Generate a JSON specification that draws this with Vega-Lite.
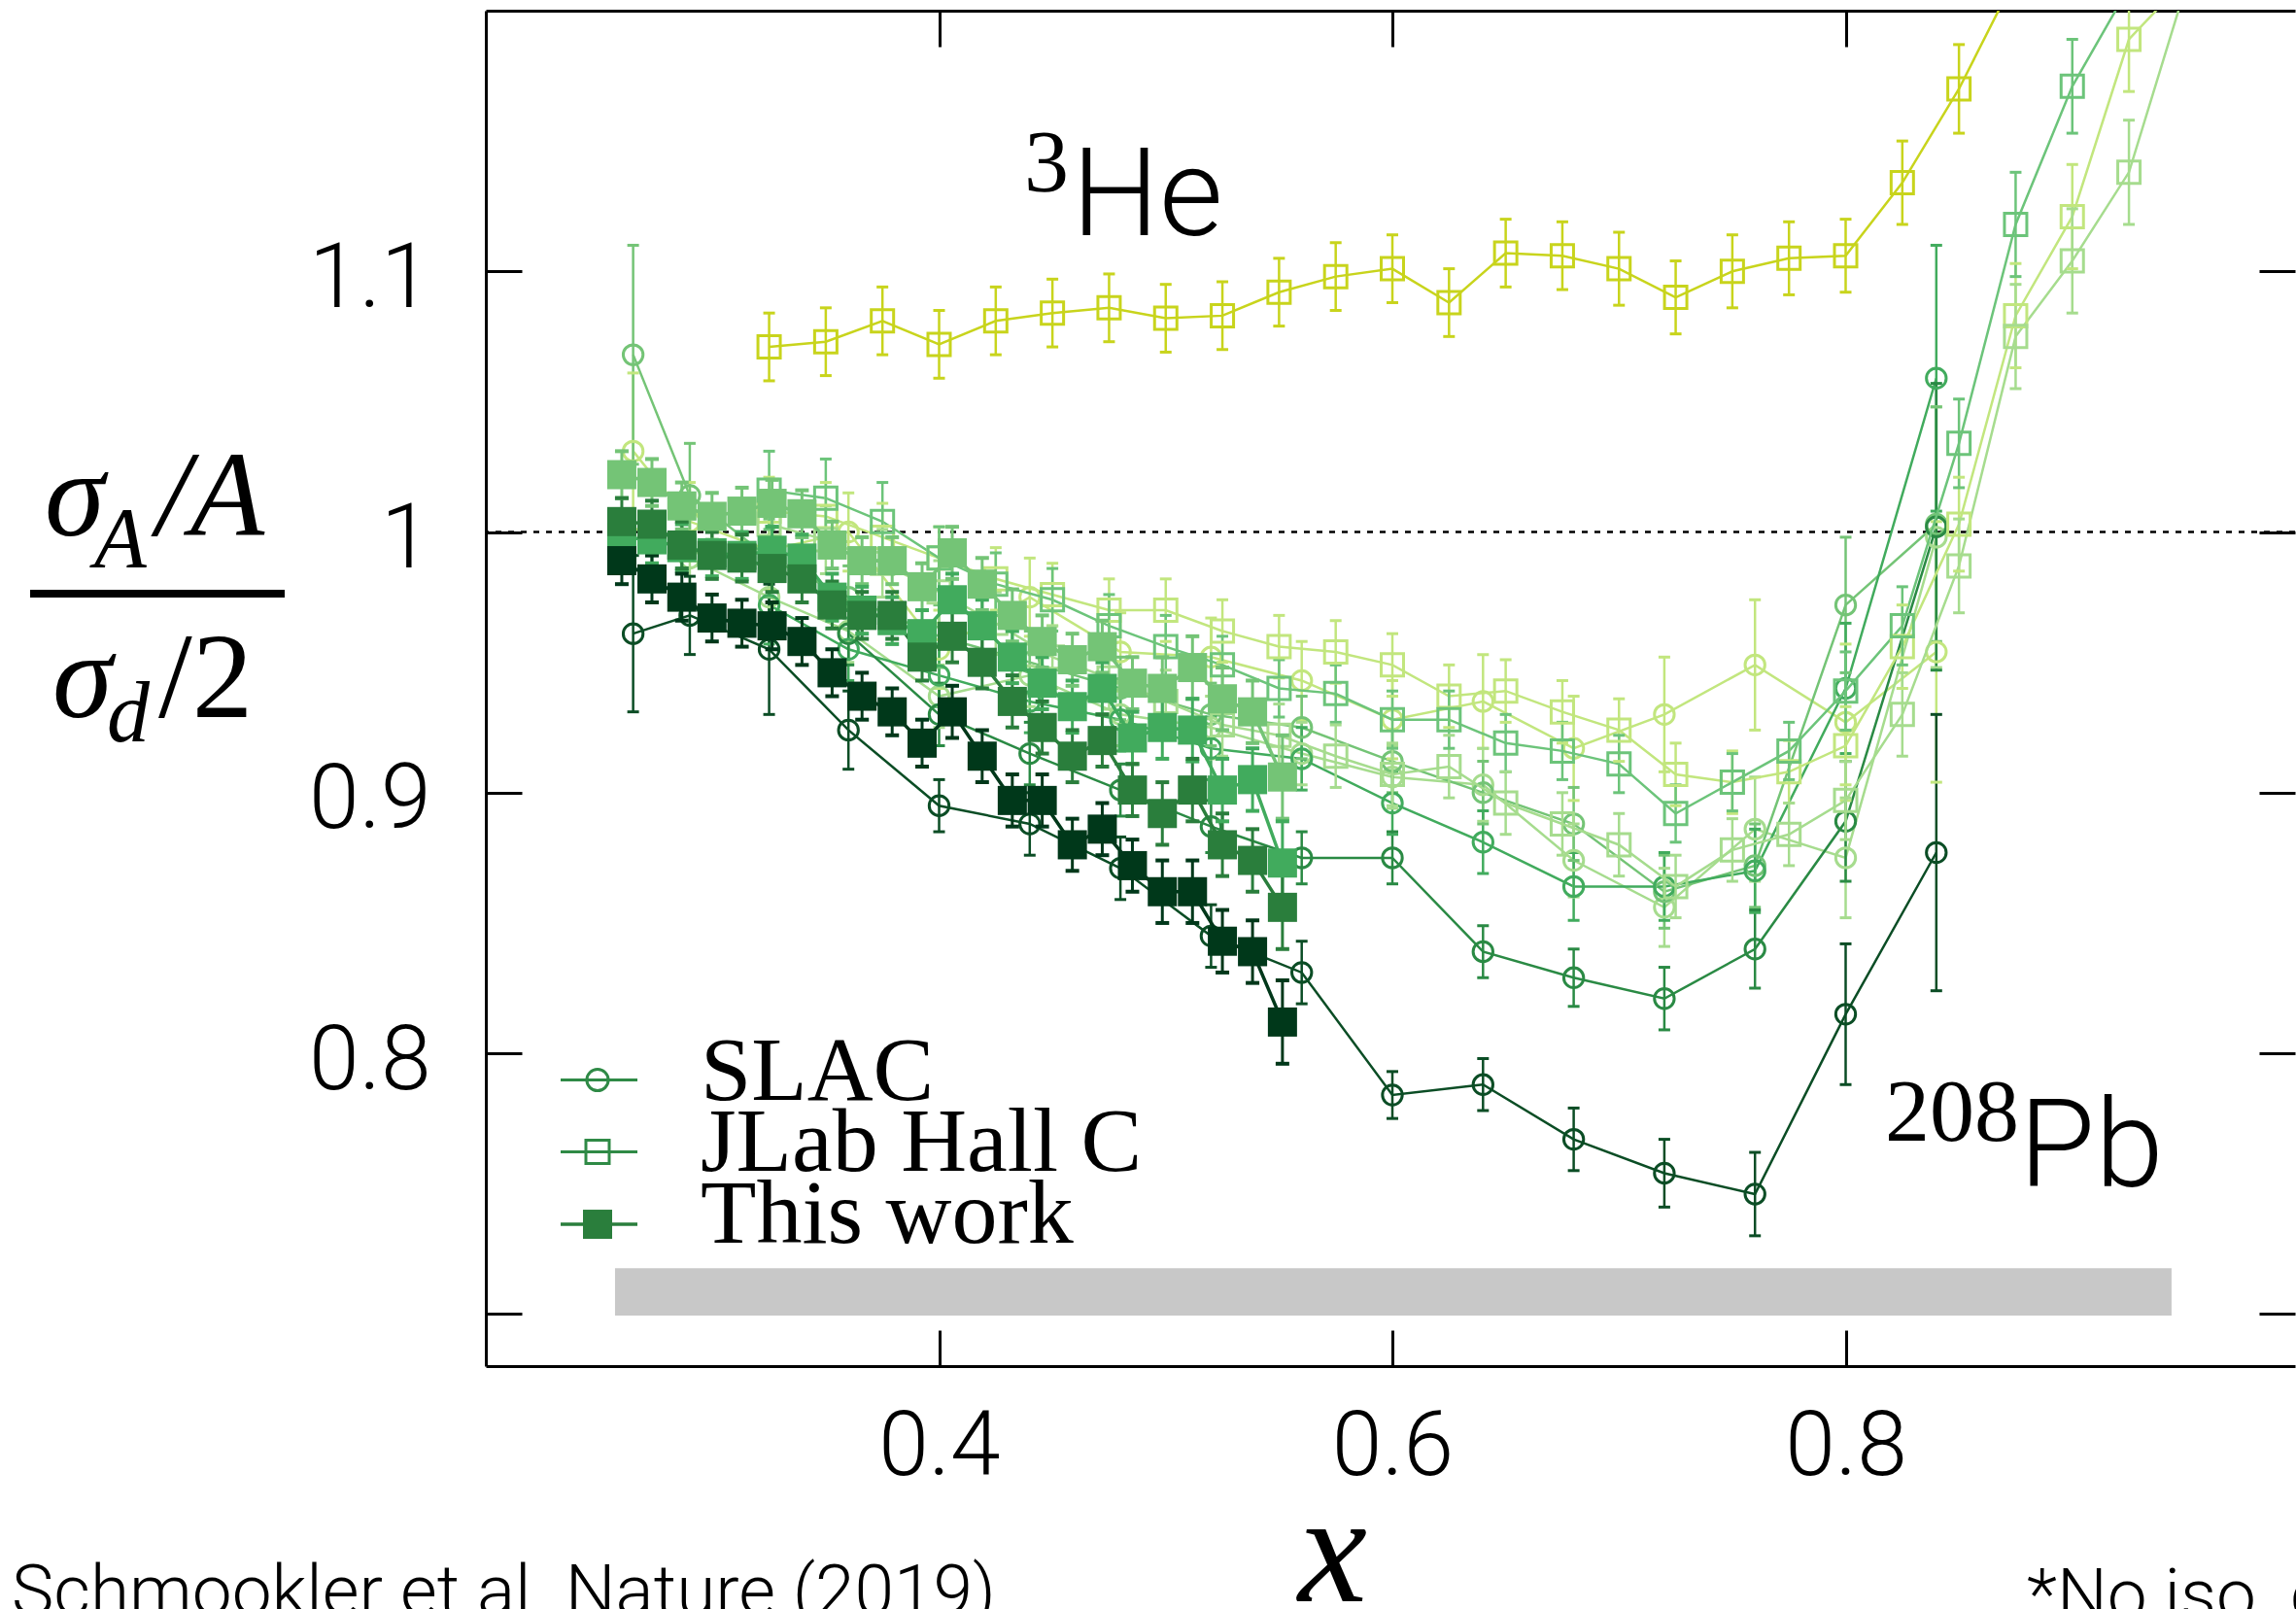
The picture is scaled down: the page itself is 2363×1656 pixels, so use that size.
{
"$schema": "https://vega.github.io/schema/vega-lite/v6.json",
"width": 1862, "height": 1395,
"autosize": {"type": "none"},
"padding": {"left": 500, "top": 11, "right": 1, "bottom": 250},
"background": "white",
"config": {"view": {"stroke": null}, "axis": {"grid": false}},
"datasets": {
"pts": [
{"g":"S","s":"SLAC He","x":0.265,"y":1.031,"lo":1.001,"hi":1.061},
{"g":"S","s":"SLAC He","x":0.29,"y":1.004,"lo":0.989,"hi":1.019},
{"g":"S","s":"SLAC He","x":0.325,"y":0.993,"lo":0.978,"hi":1.008},
{"g":"S","s":"SLAC He","x":0.36,"y":1.0,"lo":0.985,"hi":1.015},
{"g":"S","s":"SLAC He","x":0.4,"y":0.955,"lo":0.94,"hi":0.97},
{"g":"S","s":"SLAC He","x":0.44,"y":0.975,"lo":0.96,"hi":0.99},
{"g":"S","s":"SLAC He","x":0.48,"y":0.954,"lo":0.939,"hi":0.969},
{"g":"S","s":"SLAC He","x":0.52,"y":0.952,"lo":0.937,"hi":0.967},
{"g":"S","s":"SLAC He","x":0.56,"y":0.943,"lo":0.928,"hi":0.958},
{"g":"S","s":"SLAC He","x":0.6,"y":0.928,"lo":0.913,"hi":0.943},
{"g":"S","s":"SLAC He","x":0.64,"y":0.935,"lo":0.917,"hi":0.953},
{"g":"S","s":"SLAC He","x":0.68,"y":0.917,"lo":0.897,"hi":0.937},
{"g":"S","s":"SLAC He","x":0.72,"y":0.93,"lo":0.908,"hi":0.952},
{"g":"S","s":"SLAC He","x":0.76,"y":0.949,"lo":0.924,"hi":0.974},
{"g":"S","s":"SLAC He","x":0.8,"y":0.927,"lo":0.897,"hi":0.957},
{"g":"S","s":"SLAC He","x":0.84,"y":0.954,"lo":0.904,"hi":1.004},
{"g":"S","s":"SLAC Be","x":0.29,"y":0.99,"lo":0.975,"hi":1.005},
{"g":"S","s":"SLAC Be","x":0.325,"y":0.975,"lo":0.96,"hi":0.99},
{"g":"S","s":"SLAC Be","x":0.36,"y":0.962,"lo":0.95,"hi":0.974},
{"g":"S","s":"SLAC Be","x":0.4,"y":0.937,"lo":0.925,"hi":0.949},
{"g":"S","s":"SLAC Be","x":0.44,"y":0.945,"lo":0.933,"hi":0.957},
{"g":"S","s":"SLAC Be","x":0.48,"y":0.93,"lo":0.918,"hi":0.942},
{"g":"S","s":"SLAC Be","x":0.52,"y":0.925,"lo":0.913,"hi":0.937},
{"g":"S","s":"SLAC Be","x":0.56,"y":0.915,"lo":0.903,"hi":0.927},
{"g":"S","s":"SLAC Be","x":0.6,"y":0.906,"lo":0.894,"hi":0.918},
{"g":"S","s":"SLAC Be","x":0.64,"y":0.903,"lo":0.889,"hi":0.917},
{"g":"S","s":"SLAC Be","x":0.68,"y":0.874,"lo":0.86,"hi":0.888},
{"g":"S","s":"SLAC Be","x":0.72,"y":0.856,"lo":0.841,"hi":0.871},
{"g":"S","s":"SLAC Be","x":0.76,"y":0.886,"lo":0.866,"hi":0.906},
{"g":"S","s":"SLAC Be","x":0.8,"y":0.875,"lo":0.852,"hi":0.898},
{"g":"S","s":"SLAC Be","x":0.84,"y":0.998,"lo":0.948,"hi":1.048},
{"g":"S","s":"SLAC C","x":0.265,"y":1.068,"lo":1.026,"hi":1.11},
{"g":"S","s":"SLAC C","x":0.29,"y":1.014,"lo":0.994,"hi":1.034},
{"g":"S","s":"SLAC C","x":0.325,"y":0.99,"lo":0.975,"hi":1.005},
{"g":"S","s":"SLAC C","x":0.36,"y":0.975,"lo":0.963,"hi":0.987},
{"g":"S","s":"SLAC C","x":0.4,"y":0.96,"lo":0.948,"hi":0.972},
{"g":"S","s":"SLAC C","x":0.44,"y":0.95,"lo":0.938,"hi":0.962},
{"g":"S","s":"SLAC C","x":0.48,"y":0.94,"lo":0.928,"hi":0.952},
{"g":"S","s":"SLAC C","x":0.52,"y":0.93,"lo":0.918,"hi":0.942},
{"g":"S","s":"SLAC C","x":0.56,"y":0.925,"lo":0.913,"hi":0.937},
{"g":"S","s":"SLAC C","x":0.6,"y":0.912,"lo":0.9,"hi":0.924},
{"g":"S","s":"SLAC C","x":0.64,"y":0.9,"lo":0.888,"hi":0.912},
{"g":"S","s":"SLAC C","x":0.68,"y":0.888,"lo":0.874,"hi":0.902},
{"g":"S","s":"SLAC C","x":0.72,"y":0.862,"lo":0.848,"hi":0.876},
{"g":"S","s":"SLAC C","x":0.76,"y":0.872,"lo":0.856,"hi":0.888},
{"g":"S","s":"SLAC C","x":0.8,"y":0.972,"lo":0.946,"hi":0.998},
{"g":"S","s":"SLAC C","x":0.84,"y":1.003,"lo":0.958,"hi":1.048},
{"g":"S","s":"SLAC Al","x":0.325,"y":0.972,"lo":0.957,"hi":0.987},
{"g":"S","s":"SLAC Al","x":0.36,"y":0.955,"lo":0.943,"hi":0.967},
{"g":"S","s":"SLAC Al","x":0.4,"y":0.945,"lo":0.933,"hi":0.957},
{"g":"S","s":"SLAC Al","x":0.44,"y":0.935,"lo":0.923,"hi":0.947},
{"g":"S","s":"SLAC Al","x":0.48,"y":0.928,"lo":0.916,"hi":0.94},
{"g":"S","s":"SLAC Al","x":0.52,"y":0.917,"lo":0.905,"hi":0.929},
{"g":"S","s":"SLAC Al","x":0.56,"y":0.913,"lo":0.901,"hi":0.925},
{"g":"S","s":"SLAC Al","x":0.6,"y":0.896,"lo":0.884,"hi":0.908},
{"g":"S","s":"SLAC Al","x":0.64,"y":0.881,"lo":0.869,"hi":0.893},
{"g":"S","s":"SLAC Al","x":0.68,"y":0.864,"lo":0.851,"hi":0.877},
{"g":"S","s":"SLAC Al","x":0.72,"y":0.864,"lo":0.851,"hi":0.877},
{"g":"S","s":"SLAC Al","x":0.76,"y":0.87,"lo":0.854,"hi":0.886},
{"g":"S","s":"SLAC Al","x":0.8,"y":0.94,"lo":0.915,"hi":0.965},
{"g":"S","s":"SLAC Al","x":0.84,"y":1.059,"lo":1.008,"hi":1.11},
{"g":"S","s":"SLAC Fe","x":0.36,"y":0.961,"lo":0.949,"hi":0.973},
{"g":"S","s":"SLAC Fe","x":0.4,"y":0.93,"lo":0.918,"hi":0.942},
{"g":"S","s":"SLAC Fe","x":0.44,"y":0.915,"lo":0.903,"hi":0.927},
{"g":"S","s":"SLAC Fe","x":0.48,"y":0.901,"lo":0.891,"hi":0.911},
{"g":"S","s":"SLAC Fe","x":0.52,"y":0.887,"lo":0.877,"hi":0.897},
{"g":"S","s":"SLAC Fe","x":0.56,"y":0.875,"lo":0.865,"hi":0.885},
{"g":"S","s":"SLAC Fe","x":0.6,"y":0.875,"lo":0.865,"hi":0.885},
{"g":"S","s":"SLAC Fe","x":0.64,"y":0.839,"lo":0.829,"hi":0.849},
{"g":"S","s":"SLAC Fe","x":0.68,"y":0.829,"lo":0.818,"hi":0.84},
{"g":"S","s":"SLAC Fe","x":0.72,"y":0.821,"lo":0.809,"hi":0.833},
{"g":"S","s":"SLAC Fe","x":0.76,"y":0.84,"lo":0.825,"hi":0.855},
{"g":"S","s":"SLAC Fe","x":0.8,"y":0.889,"lo":0.866,"hi":0.912},
{"g":"S","s":"SLAC Fe","x":0.84,"y":1.002,"lo":0.947,"hi":1.057},
{"g":"S","s":"SLAC Au","x":0.265,"y":0.961,"lo":0.931,"hi":0.991},
{"g":"S","s":"SLAC Au","x":0.29,"y":0.968,"lo":0.953,"hi":0.983},
{"g":"S","s":"SLAC Au","x":0.325,"y":0.955,"lo":0.93,"hi":0.98},
{"g":"S","s":"SLAC Au","x":0.36,"y":0.924,"lo":0.909,"hi":0.939},
{"g":"S","s":"SLAC Au","x":0.4,"y":0.895,"lo":0.885,"hi":0.905},
{"g":"S","s":"SLAC Au","x":0.44,"y":0.888,"lo":0.876,"hi":0.9},
{"g":"S","s":"SLAC Au","x":0.48,"y":0.871,"lo":0.859,"hi":0.883},
{"g":"S","s":"SLAC Au","x":0.52,"y":0.845,"lo":0.833,"hi":0.857},
{"g":"S","s":"SLAC Au","x":0.56,"y":0.831,"lo":0.819,"hi":0.843},
{"g":"S","s":"SLAC Au","x":0.6,"y":0.784,"lo":0.775,"hi":0.793},
{"g":"S","s":"SLAC Au","x":0.64,"y":0.788,"lo":0.778,"hi":0.798},
{"g":"S","s":"SLAC Au","x":0.68,"y":0.767,"lo":0.755,"hi":0.779},
{"g":"S","s":"SLAC Au","x":0.72,"y":0.754,"lo":0.741,"hi":0.767},
{"g":"S","s":"SLAC Au","x":0.76,"y":0.746,"lo":0.73,"hi":0.762},
{"g":"S","s":"SLAC Au","x":0.8,"y":0.815,"lo":0.788,"hi":0.842},
{"g":"S","s":"SLAC Au","x":0.84,"y":0.877,"lo":0.824,"hi":0.93},
{"g":"J","s":"JLab 3He","x":0.325,"y":1.071,"lo":1.058,"hi":1.084},
{"g":"J","s":"JLab 3He","x":0.35,"y":1.073,"lo":1.06,"hi":1.086},
{"g":"J","s":"JLab 3He","x":0.375,"y":1.081,"lo":1.068,"hi":1.094},
{"g":"J","s":"JLab 3He","x":0.4,"y":1.072,"lo":1.059,"hi":1.085},
{"g":"J","s":"JLab 3He","x":0.425,"y":1.081,"lo":1.068,"hi":1.094},
{"g":"J","s":"JLab 3He","x":0.45,"y":1.084,"lo":1.071,"hi":1.097},
{"g":"J","s":"JLab 3He","x":0.475,"y":1.086,"lo":1.073,"hi":1.099},
{"g":"J","s":"JLab 3He","x":0.5,"y":1.082,"lo":1.069,"hi":1.095},
{"g":"J","s":"JLab 3He","x":0.525,"y":1.083,"lo":1.07,"hi":1.096},
{"g":"J","s":"JLab 3He","x":0.55,"y":1.092,"lo":1.079,"hi":1.105},
{"g":"J","s":"JLab 3He","x":0.575,"y":1.098,"lo":1.085,"hi":1.111},
{"g":"J","s":"JLab 3He","x":0.6,"y":1.101,"lo":1.088,"hi":1.114},
{"g":"J","s":"JLab 3He","x":0.625,"y":1.088,"lo":1.075,"hi":1.101},
{"g":"J","s":"JLab 3He","x":0.65,"y":1.107,"lo":1.094,"hi":1.12},
{"g":"J","s":"JLab 3He","x":0.675,"y":1.106,"lo":1.093,"hi":1.119},
{"g":"J","s":"JLab 3He","x":0.7,"y":1.101,"lo":1.087,"hi":1.115},
{"g":"J","s":"JLab 3He","x":0.725,"y":1.09,"lo":1.076,"hi":1.104},
{"g":"J","s":"JLab 3He","x":0.75,"y":1.1,"lo":1.086,"hi":1.114},
{"g":"J","s":"JLab 3He","x":0.775,"y":1.105,"lo":1.091,"hi":1.119},
{"g":"J","s":"JLab 3He","x":0.8,"y":1.106,"lo":1.092,"hi":1.12},
{"g":"J","s":"JLab 3He","x":0.825,"y":1.134,"lo":1.118,"hi":1.15},
{"g":"J","s":"JLab 3He","x":0.85,"y":1.17,"lo":1.153,"hi":1.187},
{"g":"J","s":"JLab 3He","x":0.875,"y":1.213,"lo":null,"hi":null},
{"g":"J","s":"JLab 4He","x":0.325,"y":1.008,"lo":0.995,"hi":1.021},
{"g":"J","s":"JLab 4He","x":0.35,"y":1.006,"lo":0.993,"hi":1.019},
{"g":"J","s":"JLab 4He","x":0.375,"y":0.998,"lo":0.985,"hi":1.011},
{"g":"J","s":"JLab 4He","x":0.4,"y":0.99,"lo":0.978,"hi":1.002},
{"g":"J","s":"JLab 4He","x":0.425,"y":0.982,"lo":0.97,"hi":0.994},
{"g":"J","s":"JLab 4He","x":0.45,"y":0.976,"lo":0.964,"hi":0.988},
{"g":"J","s":"JLab 4He","x":0.475,"y":0.97,"lo":0.958,"hi":0.982},
{"g":"J","s":"JLab 4He","x":0.5,"y":0.97,"lo":0.958,"hi":0.982},
{"g":"J","s":"JLab 4He","x":0.525,"y":0.962,"lo":0.95,"hi":0.974},
{"g":"J","s":"JLab 4He","x":0.55,"y":0.956,"lo":0.944,"hi":0.968},
{"g":"J","s":"JLab 4He","x":0.575,"y":0.954,"lo":0.942,"hi":0.966},
{"g":"J","s":"JLab 4He","x":0.6,"y":0.949,"lo":0.937,"hi":0.961},
{"g":"J","s":"JLab 4He","x":0.625,"y":0.937,"lo":0.925,"hi":0.949},
{"g":"J","s":"JLab 4He","x":0.65,"y":0.939,"lo":0.927,"hi":0.951},
{"g":"J","s":"JLab 4He","x":0.675,"y":0.931,"lo":0.919,"hi":0.943},
{"g":"J","s":"JLab 4He","x":0.7,"y":0.924,"lo":0.912,"hi":0.936},
{"g":"J","s":"JLab 4He","x":0.725,"y":0.907,"lo":0.895,"hi":0.919},
{"g":"J","s":"JLab 4He","x":0.75,"y":0.904,"lo":0.892,"hi":0.916},
{"g":"J","s":"JLab 4He","x":0.775,"y":0.908,"lo":0.896,"hi":0.92},
{"g":"J","s":"JLab 4He","x":0.8,"y":0.918,"lo":0.903,"hi":0.933},
{"g":"J","s":"JLab 4He","x":0.825,"y":0.956,"lo":0.94,"hi":0.972},
{"g":"J","s":"JLab 4He","x":0.85,"y":1.003,"lo":0.985,"hi":1.021},
{"g":"J","s":"JLab 4He","x":0.875,"y":1.083,"lo":1.063,"hi":1.103},
{"g":"J","s":"JLab 4He","x":0.9,"y":1.121,"lo":1.101,"hi":1.141},
{"g":"J","s":"JLab 4He","x":0.925,"y":1.189,"lo":1.169,"hi":1.209},
{"g":"J","s":"JLab 4He","x":0.95,"y":1.212,"lo":null,"hi":null},
{"g":"J","s":"JLab Be","x":0.325,"y":1.003,"lo":0.99,"hi":1.016},
{"g":"J","s":"JLab Be","x":0.35,"y":0.997,"lo":0.984,"hi":1.01},
{"g":"J","s":"JLab Be","x":0.375,"y":0.988,"lo":0.975,"hi":1.001},
{"g":"J","s":"JLab Be","x":0.4,"y":0.977,"lo":0.965,"hi":0.989},
{"g":"J","s":"JLab Be","x":0.425,"y":0.965,"lo":0.953,"hi":0.977},
{"g":"J","s":"JLab Be","x":0.45,"y":0.952,"lo":0.94,"hi":0.964},
{"g":"J","s":"JLab Be","x":0.475,"y":0.944,"lo":0.932,"hi":0.956},
{"g":"J","s":"JLab Be","x":0.5,"y":0.935,"lo":0.923,"hi":0.947},
{"g":"J","s":"JLab Be","x":0.525,"y":0.926,"lo":0.914,"hi":0.938},
{"g":"J","s":"JLab Be","x":0.55,"y":0.922,"lo":0.91,"hi":0.934},
{"g":"J","s":"JLab Be","x":0.575,"y":0.914,"lo":0.902,"hi":0.926},
{"g":"J","s":"JLab Be","x":0.6,"y":0.907,"lo":0.895,"hi":0.919},
{"g":"J","s":"JLab Be","x":0.625,"y":0.91,"lo":0.898,"hi":0.922},
{"g":"J","s":"JLab Be","x":0.65,"y":0.896,"lo":0.884,"hi":0.908},
{"g":"J","s":"JLab Be","x":0.675,"y":0.888,"lo":0.876,"hi":0.9},
{"g":"J","s":"JLab Be","x":0.7,"y":0.88,"lo":0.868,"hi":0.892},
{"g":"J","s":"JLab Be","x":0.725,"y":0.864,"lo":0.852,"hi":0.876},
{"g":"J","s":"JLab Be","x":0.75,"y":0.878,"lo":0.866,"hi":0.89},
{"g":"J","s":"JLab Be","x":0.775,"y":0.884,"lo":0.872,"hi":0.896},
{"g":"J","s":"JLab Be","x":0.8,"y":0.897,"lo":0.882,"hi":0.912},
{"g":"J","s":"JLab Be","x":0.825,"y":0.93,"lo":0.914,"hi":0.946},
{"g":"J","s":"JLab Be","x":0.85,"y":0.987,"lo":0.969,"hi":1.005},
{"g":"J","s":"JLab Be","x":0.875,"y":1.075,"lo":1.055,"hi":1.095},
{"g":"J","s":"JLab Be","x":0.9,"y":1.104,"lo":1.084,"hi":1.124},
{"g":"J","s":"JLab Be","x":0.925,"y":1.138,"lo":1.118,"hi":1.158},
{"g":"J","s":"JLab Be","x":0.95,"y":1.209,"lo":null,"hi":null},
{"g":"J","s":"JLab C","x":0.325,"y":1.016,"lo":1.001,"hi":1.031},
{"g":"J","s":"JLab C","x":0.35,"y":1.013,"lo":0.998,"hi":1.028},
{"g":"J","s":"JLab C","x":0.375,"y":1.004,"lo":0.989,"hi":1.019},
{"g":"J","s":"JLab C","x":0.4,"y":0.99,"lo":0.978,"hi":1.002},
{"g":"J","s":"JLab C","x":0.425,"y":0.98,"lo":0.968,"hi":0.992},
{"g":"J","s":"JLab C","x":0.45,"y":0.974,"lo":0.962,"hi":0.986},
{"g":"J","s":"JLab C","x":0.475,"y":0.964,"lo":0.952,"hi":0.976},
{"g":"J","s":"JLab C","x":0.5,"y":0.956,"lo":0.944,"hi":0.968},
{"g":"J","s":"JLab C","x":0.525,"y":0.949,"lo":0.938,"hi":0.96},
{"g":"J","s":"JLab C","x":0.55,"y":0.94,"lo":0.929,"hi":0.951},
{"g":"J","s":"JLab C","x":0.575,"y":0.938,"lo":0.927,"hi":0.949},
{"g":"J","s":"JLab C","x":0.6,"y":0.928,"lo":0.917,"hi":0.939},
{"g":"J","s":"JLab C","x":0.625,"y":0.928,"lo":0.917,"hi":0.939},
{"g":"J","s":"JLab C","x":0.65,"y":0.919,"lo":0.908,"hi":0.93},
{"g":"J","s":"JLab C","x":0.675,"y":0.916,"lo":0.905,"hi":0.927},
{"g":"J","s":"JLab C","x":0.7,"y":0.911,"lo":0.9,"hi":0.922},
{"g":"J","s":"JLab C","x":0.725,"y":0.892,"lo":0.881,"hi":0.903},
{"g":"J","s":"JLab C","x":0.75,"y":0.904,"lo":0.893,"hi":0.915},
{"g":"J","s":"JLab C","x":0.775,"y":0.916,"lo":0.905,"hi":0.927},
{"g":"J","s":"JLab C","x":0.8,"y":0.939,"lo":0.924,"hi":0.954},
{"g":"J","s":"JLab C","x":0.825,"y":0.964,"lo":0.949,"hi":0.979},
{"g":"J","s":"JLab C","x":0.85,"y":1.034,"lo":1.017,"hi":1.051},
{"g":"J","s":"JLab C","x":0.875,"y":1.118,"lo":1.098,"hi":1.138},
{"g":"J","s":"JLab C","x":0.9,"y":1.171,"lo":1.153,"hi":1.189},
{"g":"J","s":"JLab C","x":0.925,"y":1.209,"lo":null,"hi":null},
{"g":"C","s":"CLAS C","x":0.26,"y":1.022,"lo":1.013,"hi":1.031},
{"g":"C","s":"CLAS C","x":0.2733,"y":1.019,"lo":1.01,"hi":1.028},
{"g":"C","s":"CLAS C","x":0.2865,"y":1.01,"lo":1.001,"hi":1.019},
{"g":"C","s":"CLAS C","x":0.2998,"y":1.006,"lo":0.997,"hi":1.015},
{"g":"C","s":"CLAS C","x":0.313,"y":1.008,"lo":0.999,"hi":1.017},
{"g":"C","s":"CLAS C","x":0.3263,"y":1.011,"lo":1.002,"hi":1.02},
{"g":"C","s":"CLAS C","x":0.3395,"y":1.007,"lo":0.998,"hi":1.016},
{"g":"C","s":"CLAS C","x":0.3528,"y":0.995,"lo":0.986,"hi":1.004},
{"g":"C","s":"CLAS C","x":0.366,"y":0.989,"lo":0.98,"hi":0.998},
{"g":"C","s":"CLAS C","x":0.3793,"y":0.989,"lo":0.98,"hi":0.998},
{"g":"C","s":"CLAS C","x":0.3925,"y":0.979,"lo":0.97,"hi":0.988},
{"g":"C","s":"CLAS C","x":0.4058,"y":0.992,"lo":0.982,"hi":1.002},
{"g":"C","s":"CLAS C","x":0.419,"y":0.98,"lo":0.97,"hi":0.99},
{"g":"C","s":"CLAS C","x":0.4323,"y":0.968,"lo":0.958,"hi":0.978},
{"g":"C","s":"CLAS C","x":0.4455,"y":0.958,"lo":0.948,"hi":0.968},
{"g":"C","s":"CLAS C","x":0.4588,"y":0.951,"lo":0.941,"hi":0.961},
{"g":"C","s":"CLAS C","x":0.472,"y":0.956,"lo":0.946,"hi":0.966},
{"g":"C","s":"CLAS C","x":0.4853,"y":0.942,"lo":0.932,"hi":0.952},
{"g":"C","s":"CLAS C","x":0.4985,"y":0.94,"lo":0.928,"hi":0.952},
{"g":"C","s":"CLAS C","x":0.5118,"y":0.948,"lo":0.936,"hi":0.96},
{"g":"C","s":"CLAS C","x":0.525,"y":0.936,"lo":0.924,"hi":0.948},
{"g":"C","s":"CLAS C","x":0.5383,"y":0.931,"lo":0.919,"hi":0.943},
{"g":"C","s":"CLAS C","x":0.5515,"y":0.906,"lo":0.89,"hi":0.922},
{"g":"C","s":"CLAS Al","x":0.26,"y":0.998,"lo":0.989,"hi":1.007},
{"g":"C","s":"CLAS Al","x":0.2733,"y":0.997,"lo":0.988,"hi":1.006},
{"g":"C","s":"CLAS Al","x":0.2865,"y":0.994,"lo":0.985,"hi":1.003},
{"g":"C","s":"CLAS Al","x":0.2998,"y":0.992,"lo":0.983,"hi":1.001},
{"g":"C","s":"CLAS Al","x":0.313,"y":0.991,"lo":0.982,"hi":1.0},
{"g":"C","s":"CLAS Al","x":0.3263,"y":0.993,"lo":0.984,"hi":1.002},
{"g":"C","s":"CLAS Al","x":0.3395,"y":0.99,"lo":0.981,"hi":0.999},
{"g":"C","s":"CLAS Al","x":0.3528,"y":0.975,"lo":0.966,"hi":0.984},
{"g":"C","s":"CLAS Al","x":0.366,"y":0.97,"lo":0.961,"hi":0.979},
{"g":"C","s":"CLAS Al","x":0.3793,"y":0.966,"lo":0.957,"hi":0.975},
{"g":"C","s":"CLAS Al","x":0.3925,"y":0.961,"lo":0.952,"hi":0.97},
{"g":"C","s":"CLAS Al","x":0.4058,"y":0.974,"lo":0.964,"hi":0.984},
{"g":"C","s":"CLAS Al","x":0.419,"y":0.964,"lo":0.954,"hi":0.974},
{"g":"C","s":"CLAS Al","x":0.4323,"y":0.952,"lo":0.942,"hi":0.962},
{"g":"C","s":"CLAS Al","x":0.4455,"y":0.942,"lo":0.932,"hi":0.952},
{"g":"C","s":"CLAS Al","x":0.4588,"y":0.933,"lo":0.923,"hi":0.943},
{"g":"C","s":"CLAS Al","x":0.472,"y":0.94,"lo":0.93,"hi":0.95},
{"g":"C","s":"CLAS Al","x":0.4853,"y":0.921,"lo":0.911,"hi":0.931},
{"g":"C","s":"CLAS Al","x":0.4985,"y":0.925,"lo":0.913,"hi":0.937},
{"g":"C","s":"CLAS Al","x":0.5118,"y":0.924,"lo":0.912,"hi":0.936},
{"g":"C","s":"CLAS Al","x":0.525,"y":0.901,"lo":0.889,"hi":0.913},
{"g":"C","s":"CLAS Al","x":0.5383,"y":0.905,"lo":0.893,"hi":0.917},
{"g":"C","s":"CLAS Al","x":0.5515,"y":0.873,"lo":0.857,"hi":0.889},
{"g":"C","s":"CLAS Fe","x":0.26,"y":1.004,"lo":0.995,"hi":1.013},
{"g":"C","s":"CLAS Fe","x":0.2733,"y":1.003,"lo":0.994,"hi":1.012},
{"g":"C","s":"CLAS Fe","x":0.2865,"y":0.995,"lo":0.986,"hi":1.004},
{"g":"C","s":"CLAS Fe","x":0.2998,"y":0.991,"lo":0.982,"hi":1.0},
{"g":"C","s":"CLAS Fe","x":0.313,"y":0.99,"lo":0.981,"hi":0.999},
{"g":"C","s":"CLAS Fe","x":0.3263,"y":0.986,"lo":0.977,"hi":0.995},
{"g":"C","s":"CLAS Fe","x":0.3395,"y":0.982,"lo":0.973,"hi":0.991},
{"g":"C","s":"CLAS Fe","x":0.3528,"y":0.972,"lo":0.963,"hi":0.981},
{"g":"C","s":"CLAS Fe","x":0.366,"y":0.968,"lo":0.959,"hi":0.977},
{"g":"C","s":"CLAS Fe","x":0.3793,"y":0.968,"lo":0.959,"hi":0.977},
{"g":"C","s":"CLAS Fe","x":0.3925,"y":0.952,"lo":0.943,"hi":0.961},
{"g":"C","s":"CLAS Fe","x":0.4058,"y":0.96,"lo":0.95,"hi":0.97},
{"g":"C","s":"CLAS Fe","x":0.419,"y":0.95,"lo":0.94,"hi":0.96},
{"g":"C","s":"CLAS Fe","x":0.4323,"y":0.935,"lo":0.925,"hi":0.945},
{"g":"C","s":"CLAS Fe","x":0.4455,"y":0.925,"lo":0.915,"hi":0.935},
{"g":"C","s":"CLAS Fe","x":0.4588,"y":0.914,"lo":0.904,"hi":0.924},
{"g":"C","s":"CLAS Fe","x":0.472,"y":0.92,"lo":0.91,"hi":0.93},
{"g":"C","s":"CLAS Fe","x":0.4853,"y":0.901,"lo":0.891,"hi":0.911},
{"g":"C","s":"CLAS Fe","x":0.4985,"y":0.892,"lo":0.88,"hi":0.904},
{"g":"C","s":"CLAS Fe","x":0.5118,"y":0.901,"lo":0.889,"hi":0.913},
{"g":"C","s":"CLAS Fe","x":0.525,"y":0.88,"lo":0.868,"hi":0.892},
{"g":"C","s":"CLAS Fe","x":0.5383,"y":0.874,"lo":0.862,"hi":0.886},
{"g":"C","s":"CLAS Fe","x":0.5515,"y":0.856,"lo":0.84,"hi":0.872},
{"g":"C","s":"CLAS Pb","x":0.26,"y":0.989,"lo":0.98,"hi":0.998},
{"g":"C","s":"CLAS Pb","x":0.2733,"y":0.982,"lo":0.973,"hi":0.991},
{"g":"C","s":"CLAS Pb","x":0.2865,"y":0.975,"lo":0.966,"hi":0.984},
{"g":"C","s":"CLAS Pb","x":0.2998,"y":0.967,"lo":0.958,"hi":0.976},
{"g":"C","s":"CLAS Pb","x":0.313,"y":0.965,"lo":0.956,"hi":0.974},
{"g":"C","s":"CLAS Pb","x":0.3263,"y":0.964,"lo":0.955,"hi":0.973},
{"g":"C","s":"CLAS Pb","x":0.3395,"y":0.958,"lo":0.949,"hi":0.967},
{"g":"C","s":"CLAS Pb","x":0.3528,"y":0.946,"lo":0.937,"hi":0.955},
{"g":"C","s":"CLAS Pb","x":0.366,"y":0.937,"lo":0.928,"hi":0.946},
{"g":"C","s":"CLAS Pb","x":0.3793,"y":0.931,"lo":0.922,"hi":0.94},
{"g":"C","s":"CLAS Pb","x":0.3925,"y":0.919,"lo":0.91,"hi":0.928},
{"g":"C","s":"CLAS Pb","x":0.4058,"y":0.931,"lo":0.921,"hi":0.941},
{"g":"C","s":"CLAS Pb","x":0.419,"y":0.914,"lo":0.904,"hi":0.924},
{"g":"C","s":"CLAS Pb","x":0.4323,"y":0.897,"lo":0.887,"hi":0.907},
{"g":"C","s":"CLAS Pb","x":0.4455,"y":0.897,"lo":0.887,"hi":0.907},
{"g":"C","s":"CLAS Pb","x":0.4588,"y":0.88,"lo":0.87,"hi":0.89},
{"g":"C","s":"CLAS Pb","x":0.472,"y":0.886,"lo":0.876,"hi":0.896},
{"g":"C","s":"CLAS Pb","x":0.4853,"y":0.872,"lo":0.862,"hi":0.882},
{"g":"C","s":"CLAS Pb","x":0.4985,"y":0.862,"lo":0.85,"hi":0.874},
{"g":"C","s":"CLAS Pb","x":0.5118,"y":0.862,"lo":0.85,"hi":0.874},
{"g":"C","s":"CLAS Pb","x":0.525,"y":0.843,"lo":0.831,"hi":0.855},
{"g":"C","s":"CLAS Pb","x":0.5383,"y":0.839,"lo":0.827,"hi":0.851},
{"g":"C","s":"CLAS Pb","x":0.5515,"y":0.812,"lo":0.796,"hi":0.828}
]
},
"data": {"name": "pts"},
"layer": [
{
  "data": {"values": [{"x1": 0.257, "x2": 0.9438, "y1": 0.6994, "y2": 0.7176}]},
  "mark": {"type": "rect", "color": "#c8c8c8"},
  "encoding": {
    "x": {"field": "x1", "type": "quantitative", "scale": {"domain": [0.2, 0.99828], "nice": false, "zero": false},
      "axis": {"orient": "bottom", "values": [0.4, 0.6, 0.8], "format": ".1f", "tickSize": -37, "tickWidth": 3, "tickColor": "black", "domain": true, "domainWidth": 3, "domainColor": "black", "grid": false,
        "labelFont": "Roboto", "labelFontWeight": 300, "labelFontSize": 93, "labelColor": "black", "labelPadding": 75, "labelFlush": false, "labelOverlap": false,
        "title": "x", "titleFont": "Liberation Serif", "titleFontStyle": "italic", "titleFontWeight": "normal", "titleFontSize": 160, "titleColor": "black",
        "titleX": 871, "titleY": 241, "titleAlign": "center", "titleBaseline": "alphabetic"}},
    "x2": {"field": "x2"},
    "y": {"field": "y1", "type": "quantitative", "scale": {"domain": [0.68, 1.2], "nice": false, "zero": false},
      "axis": {"orient": "left", "values": [0.7, 0.8, 0.9, 1.0, 1.1], "tickSize": -37, "tickWidth": 3, "tickColor": "black", "domain": true, "domainWidth": 3, "domainColor": "black", "grid": false,
        "labelExpr": "datum.value == 1 ? '1' : (datum.value < 0.75 ? '' : format(datum.value, '.1f'))",
        "labelFont": "Roboto", "labelFontWeight": 300, "labelFontSize": 93, "labelColor": "black", "labelPadding": 94, "labelOffset": 8, "labelFlush": false, "labelOverlap": false,
        "title": null}},
    "y2": {"field": "y2"},
    "color": {"value": "#c8c8c8"}
  }
},
{
  "data": {"values": [{"ax": 0.5, "ay": 1.0}]},
  "mark": {"type": "point", "opacity": 0},
  "encoding": {
    "x": {"field": "ax", "type": "quantitative", "scale": {"domain": [0.2, 0.99828], "nice": false, "zero": false},
      "axis": {"orient": "top", "values": [0.4, 0.6, 0.8], "tickSize": -37, "tickWidth": 3, "tickColor": "black", "domain": true, "domainWidth": 3, "domainColor": "black", "labels": false, "grid": false, "title": null}},
    "y": {"field": "ay", "type": "quantitative", "scale": {"domain": [0.68, 1.2], "nice": false, "zero": false},
      "axis": {"orient": "right", "values": [0.7, 0.8, 0.9, 1.0, 1.1], "tickSize": -37, "tickWidth": 3, "tickColor": "black", "domain": false, "labels": false, "grid": false, "title": null}},
    "color": {"value": "black"}
  }
},
{
  "data": {"values": [{"level": 1}]},
  "mark": {"type": "rule", "color": "black", "strokeWidth": 2.5, "strokeDash": [6, 7]},
  "encoding": {"y": {"field": "level", "type": "quantitative", "axis": null}, "color": {"value": "black"}}
},
{
  "encoding": {
    "x": {"field": "x", "type": "quantitative", "scale": {"domain": [0.2, 0.99828], "nice": false, "zero": false}, "axis": null},
    "y": {"field": "y", "type": "quantitative", "scale": {"domain": [0.68, 1.2], "nice": false, "zero": false}, "axis": null},
    "color": {"field": "s", "type": "nominal", "legend": null,
      "scale": {"domain": ["SLAC He","SLAC Be","SLAC C","SLAC Al","SLAC Fe","SLAC Au","JLab 3He","JLab 4He","JLab Be","JLab C","CLAS C","CLAS Al","CLAS Fe","CLAS Pb"],
                "range": ["#c2e67e","#a6dc8e","#74c476","#41ab5d","#2a8a44","#0b4d25","#c8d41c","#c2e67e","#a6dc8e","#6cc47a","#74c476","#41ab5d","#2a7e3c","#00381a"]}}
  },
  "layer": [
    {"transform": [{"filter": "datum.g == 'S'"}], "mark": {"type": "line", "strokeWidth": 2.5, "clip": true}},
    {"transform": [{"filter": "datum.g == 'S'"}], "mark": {"type": "rule", "strokeWidth": 2.5, "clip": true}, "encoding": {"y": {"field": "lo", "type": "quantitative", "axis": null}, "y2": {"field": "hi"}}},
    {"transform": [{"filter": "datum.g == 'S'"}], "mark": {"type": "tick", "orient": "horizontal", "size": 12, "thickness": 3, "opacity": 1, "clip": true}, "encoding": {"y": {"field": "lo", "type": "quantitative", "axis": null}}},
    {"transform": [{"filter": "datum.g == 'S'"}], "mark": {"type": "tick", "orient": "horizontal", "size": 12, "thickness": 3, "opacity": 1, "clip": true}, "encoding": {"y": {"field": "hi", "type": "quantitative", "axis": null}}},
    {"transform": [{"filter": "datum.g == 'S'"}], "mark": {"type": "point", "shape": "circle", "filled": false, "size": 415, "strokeWidth": 3, "opacity": 1, "clip": true}},
    {"transform": [{"filter": "datum.g == 'J'"}], "mark": {"type": "line", "strokeWidth": 2.5, "clip": true}},
    {"transform": [{"filter": "datum.g == 'J'"}], "mark": {"type": "rule", "strokeWidth": 2.5, "clip": true}, "encoding": {"y": {"field": "lo", "type": "quantitative", "axis": null}, "y2": {"field": "hi"}}},
    {"transform": [{"filter": "datum.g == 'J'"}], "mark": {"type": "tick", "orient": "horizontal", "size": 12, "thickness": 3, "opacity": 1, "clip": true}, "encoding": {"y": {"field": "lo", "type": "quantitative", "axis": null}}},
    {"transform": [{"filter": "datum.g == 'J'"}], "mark": {"type": "tick", "orient": "horizontal", "size": 12, "thickness": 3, "opacity": 1, "clip": true}, "encoding": {"y": {"field": "hi", "type": "quantitative", "axis": null}}},
    {"transform": [{"filter": "datum.g == 'J'"}], "mark": {"type": "point", "shape": "square", "filled": false, "size": 529, "strokeWidth": 3, "opacity": 1, "clip": true}},
    {"transform": [{"filter": "datum.g == 'C'"}], "mark": {"type": "line", "strokeWidth": 3.5, "clip": true}},
    {"transform": [{"filter": "datum.g == 'C'"}], "mark": {"type": "rule", "strokeWidth": 3, "clip": true}, "encoding": {"y": {"field": "lo", "type": "quantitative", "axis": null}, "y2": {"field": "hi"}}},
    {"transform": [{"filter": "datum.g == 'C'"}], "mark": {"type": "tick", "orient": "horizontal", "size": 14, "thickness": 4, "opacity": 1, "clip": true}, "encoding": {"y": {"field": "lo", "type": "quantitative", "axis": null}}},
    {"transform": [{"filter": "datum.g == 'C'"}], "mark": {"type": "tick", "orient": "horizontal", "size": 14, "thickness": 4, "opacity": 1, "clip": true}, "encoding": {"y": {"field": "hi", "type": "quantitative", "axis": null}}},
    {"transform": [{"filter": "datum.g == 'C'"}], "mark": {"type": "point", "shape": "square", "filled": true, "size": 900, "opacity": 1, "clip": true}}
  ]
},
{
  "data": {"values": [{"t": "σ", "ax": 0.00536, "ay": 0.9987}, {"t": "/A", "ax": 0.05466, "ay": 0.9987}, {"t": "σ", "ax": 0.00879, "ay": 0.92899}]},
  "mark": {"type": "text", "font": "Liberation Serif", "fontStyle": "italic", "fontSize": 125, "align": "left", "baseline": "alphabetic"},
  "encoding": {"x": {"field": "ax", "type": "quantitative", "axis": null}, "y": {"field": "ay", "type": "quantitative", "axis": null}, "text": {"field": "t"}, "color": {"value": "black"}}
},
{
  "data": {"values": [{"t": "A", "ax": 0.02722, "ay": 0.98677}, {"t": "d", "ax": 0.0328, "ay": 0.91967}]},
  "mark": {"type": "text", "font": "Liberation Serif", "fontStyle": "italic", "fontSize": 88, "align": "left", "baseline": "alphabetic"},
  "encoding": {"x": {"field": "ax", "type": "quantitative", "axis": null}, "y": {"field": "ay", "type": "quantitative", "axis": null}, "text": {"field": "t"}, "color": {"value": "black"}}
},
{
  "data": {"values": [{"t": "/2", "ax": 0.05552, "ay": 0.92899}]},
  "mark": {"type": "text", "font": "Liberation Serif", "fontSize": 125, "align": "left", "baseline": "alphabetic"},
  "encoding": {"x": {"field": "ax", "type": "quantitative", "axis": null}, "y": {"field": "ay", "type": "quantitative", "axis": null}, "text": {"field": "t"}, "color": {"value": "black"}}
},
{
  "data": {"values": [{"ax": -0.00107, "ax2": 0.11125, "ay": 0.97633}]},
  "mark": {"type": "rule", "strokeWidth": 8, "color": "black"},
  "encoding": {"x": {"field": "ax", "type": "quantitative", "axis": null}, "x2": {"field": "ax2"}, "y": {"field": "ay", "type": "quantitative", "axis": null}, "color": {"value": "black"}}
},
{
  "data": {"values": [{"t": "3", "ax": 0.43751, "ay": 1.13065}, {"t": "208", "ax": 0.81736, "ay": 0.76647}]},
  "mark": {"type": "text", "font": "Liberation Serif", "fontSize": 92, "align": "left", "baseline": "alphabetic"},
  "encoding": {"x": {"field": "ax", "type": "quantitative", "axis": null}, "y": {"field": "ay", "type": "quantitative", "axis": null}, "text": {"field": "t"}, "color": {"value": "black"}}
},
{
  "data": {"values": [{"t": "He", "ax": 0.45852, "ay": 1.11388}, {"t": "Pb", "ax": 0.87653, "ay": 0.74895}]},
  "mark": {"type": "text", "font": "Roboto", "fontWeight": 300, "fontSize": 127, "align": "left", "baseline": "alphabetic"},
  "encoding": {"x": {"field": "ax", "type": "quantitative", "axis": null}, "y": {"field": "ay", "type": "quantitative", "axis": null}, "text": {"field": "t"}, "color": {"value": "black"}}
},
{
  "data": {"values": [{"t": "SLAC", "ax": 0.23301, "ax2": 0.26688, "ay": 0.78976}, {"t": "JLab Hall C", "ax": 0.23301, "ax2": 0.26688, "ay": 0.76222}]},
  "mark": {"type": "rule", "strokeWidth": 3, "color": "#2f8a46"},
  "encoding": {"x": {"field": "ax", "type": "quantitative", "axis": null}, "x2": {"field": "ax2"}, "y": {"field": "ay", "type": "quantitative", "axis": null}, "color": {"value": "#2f8a46"}}
},
{
  "data": {"values": [{"t": "This work", "ax": 0.23301, "ax2": 0.26688, "ay": 0.73441}]},
  "mark": {"type": "rule", "strokeWidth": 3.5, "color": "#2a7e3c"},
  "encoding": {"x": {"field": "ax", "type": "quantitative", "axis": null}, "x2": {"field": "ax2"}, "y": {"field": "ay", "type": "quantitative", "axis": null}, "color": {"value": "#2a7e3c"}}
},
{
  "data": {"values": [{"t": "SLAC", "ax": 0.2493, "ay": 0.78976}]},
  "mark": {"type": "point", "shape": "circle", "filled": false, "size": 490, "strokeWidth": 3, "opacity": 1},
  "encoding": {"x": {"field": "ax", "type": "quantitative", "axis": null}, "y": {"field": "ay", "type": "quantitative", "axis": null}, "color": {"value": "#2f8a46"}}
},
{
  "data": {"values": [{"t": "JLab Hall C", "ax": 0.2493, "ay": 0.76222}]},
  "mark": {"type": "point", "shape": "square", "filled": false, "size": 576, "strokeWidth": 3, "opacity": 1},
  "encoding": {"x": {"field": "ax", "type": "quantitative", "axis": null}, "y": {"field": "ay", "type": "quantitative", "axis": null}, "color": {"value": "#2f8a46"}}
},
{
  "data": {"values": [{"t": "This work", "ax": 0.2493, "ay": 0.73441}]},
  "mark": {"type": "point", "shape": "square", "filled": true, "size": 900, "opacity": 1},
  "encoding": {"x": {"field": "ax", "type": "quantitative", "axis": null}, "y": {"field": "ay", "type": "quantitative", "axis": null}, "color": {"value": "#2a7e3c"}}
},
{
  "data": {"values": [{"t": "SLAC", "ax": 0.29475, "ay": 0.78201}, {"t": "JLab Hall C", "ax": 0.29475, "ay": 0.75491}, {"t": "This work", "ax": 0.29475, "ay": 0.72737}]},
  "mark": {"type": "text", "font": "Liberation Serif", "fontSize": 94, "align": "left", "baseline": "alphabetic"},
  "encoding": {"x": {"field": "ax", "type": "quantitative", "axis": null}, "y": {"field": "ay", "type": "quantitative", "axis": null}, "text": {"field": "t"}, "color": {"value": "black"}}
},
{
  "data": {"values": [{"t": "Schmookler et al. Nature (2019)", "ax": -0.00922, "ay": 0.58456}, {"t": "*No iso. corr.", "ax": 0.87995, "ay": 0.58307}]},
  "mark": {"type": "text", "font": "Roboto", "fontWeight": 300, "fontSize": 73, "align": "left", "baseline": "alphabetic"},
  "encoding": {"x": {"field": "ax", "type": "quantitative", "axis": null}, "y": {"field": "ay", "type": "quantitative", "axis": null}, "text": {"field": "t"}, "color": {"value": "black"}}
}
],
"resolve": {"axis": {"x": "independent", "y": "independent"}}
}
